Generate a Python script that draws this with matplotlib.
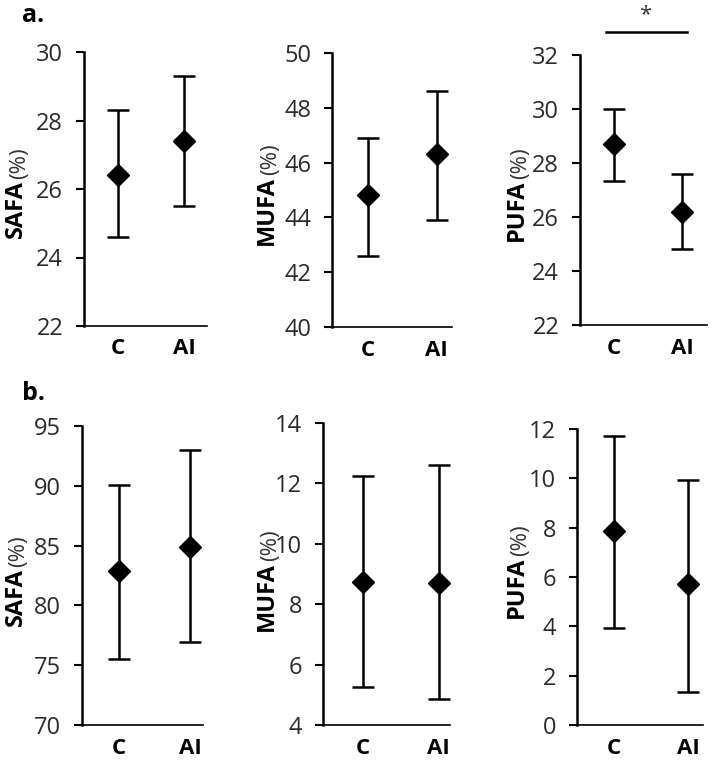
import matplotlib
matplotlib.use('Agg')
import matplotlib.pyplot as plt

plt.rcParams['font.family'] = ['Open Sans', 'DejaVu Sans']

groups = ['C', 'AI']

# panel a
a_names = ['SAFA', 'MUFA', 'PUFA']
a_mean = [[26.4, 27.4], [44.8, 46.3], [28.7, 26.2]]
a_low = [[24.6, 25.5], [42.6, 43.9], [27.35, 24.8]]
a_high = [[28.3, 29.3], [46.9, 48.6], [30.0, 27.6]]
a_ticks = [[22, 24, 26, 28, 30], [40, 42, 44, 46, 48, 50], [22, 24, 26, 28, 30, 32]]

# panel b
b_names = ['SAFA', 'MUFA', 'PUFA']
b_mean = [[82.9, 84.9], [8.75, 8.7], [7.85, 5.7]]
b_low = [[75.5, 76.9], [5.25, 4.85], [3.95, 1.35]]
b_high = [[90.1, 93.0], [12.25, 12.6], [11.7, 9.95]]
b_ticks = [[70, 75, 80, 85, 90, 95], [4, 6, 8, 10, 12, 14], [0, 2, 4, 6, 8, 10, 12]]

W, H = 713, 762
fig = plt.figure(figsize=(W / 100, H / 100), dpi=100)

# axes boxes in pixels: left, top, right, bottom
a_boxes = [(84, 52, 207, 326), (332, 53, 452, 327), (580, 55, 707, 325)]
b_boxes = [(82, 426, 203, 725), (323, 423, 450, 725), (577, 429, 703, 725)]
a_xlims = [(-0.52, 1.35), (-0.52, 1.22), (-0.5, 1.36)]
b_xlims = [(-0.51, 1.18), (-0.52, 1.15), (-0.49, 1.2)]
a_labx = [-0.55, -0.54, -0.5]
b_labx = [-0.55, -0.44, -0.48]
a_laby = [0.32, 0.30, 0.31]
b_laby = [0.33, 0.31, 0.36]


def panel(box, xlim, name, mean, low, high, ticks, labx, laby):
    l, t, r, b = box
    ax = fig.add_axes([l / W, 1 - b / H, (r - l) / W, (b - t) / H])
    x = list(range(len(groups)))
    err = [[m - lo for m, lo in zip(mean, low)], [hi - m for m, hi in zip(mean, high)]]
    ax.errorbar(x, mean, yerr=err, fmt='D', color='black', ms=11, elinewidth=1.8,
                capsize=8, capthick=1.8, zorder=3, clip_on=False)
    ax.set_xlim(*xlim)
    ax.set_ylim(ticks[0], ticks[-1])
    ax.set_yticks(ticks)
    ax.set_xticks(x)
    ax.set_xticklabels(groups, fontsize=16, fontweight='bold')
    ax.tick_params(axis='x', length=0, pad=9)
    ax.tick_params(axis='y', length=6, width=1.5, labelsize=17, labelcolor='#2a2a2a', pad=9)
    for s in ['top', 'right']:
        ax.spines[s].set_visible(False)
    ax.spines['left'].set_linewidth(1.8)
    ax.spines['bottom'].set_linewidth(1.2)
    # y label: bold name + normal (%)
    t1 = ax.text(labx, laby, name, transform=ax.transAxes, rotation=90, fontsize=17,
                 fontweight='bold', ha='center', va='bottom')
    fig.canvas.draw()
    bb = t1.get_window_extent().transformed(ax.transAxes.inverted())
    ax.text(labx + 0.03, bb.y1 + 0.005, '(%)', transform=ax.transAxes, rotation=90,
            fontsize=16, color='#333333', ha='center', va='bottom')
    return ax


for i in range(3):
    ax = panel(a_boxes[i], a_xlims[i], a_names[i], a_mean[i], a_low[i], a_high[i],
               a_ticks[i], a_labx[i], a_laby[i])
    if i == 2:
        ax.plot([-0.12, 1.07], [32.85, 32.85], color='black', lw=1.8, clip_on=False)
        ax.text(0.45, 33.1, '*', fontsize=16, ha='center', va='bottom', color='#333333')

for i in range(3):
    panel(b_boxes[i], b_xlims[i], b_names[i], b_mean[i], b_low[i], b_high[i],
          b_ticks[i], b_labx[i], b_laby[i])

fig.text(22 / W, 1 - 16 / H, 'a.', fontsize=18, fontweight='bold', va='center')
fig.text(22 / W, 1 - 393 / H, 'b.', fontsize=18, fontweight='bold', va='center')

fig.savefig('out.png', dpi=100)
